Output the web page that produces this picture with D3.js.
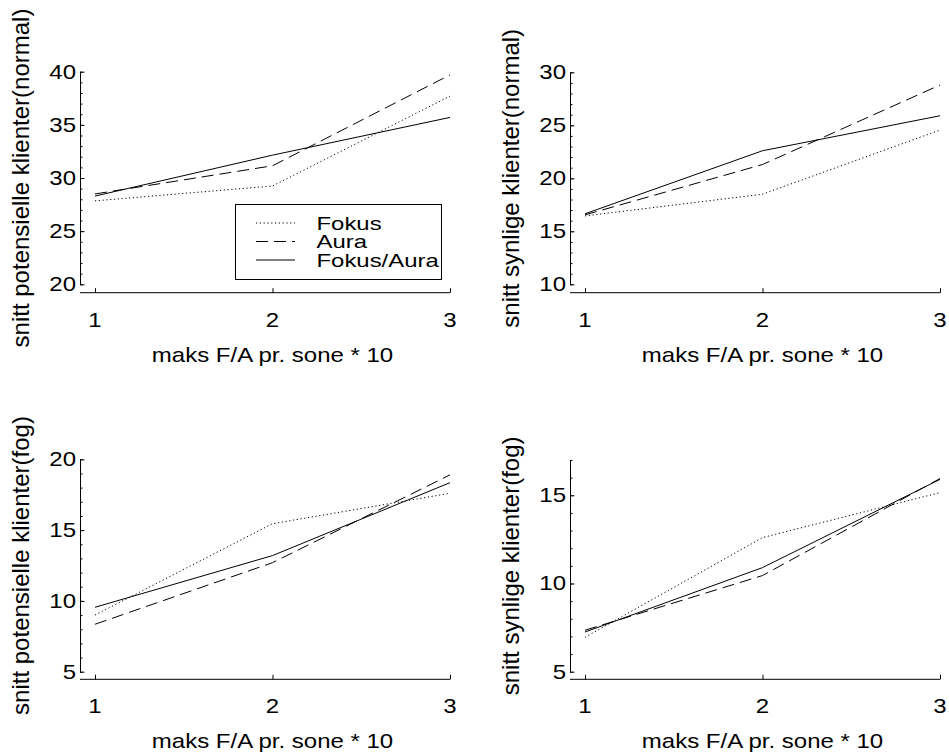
<!DOCTYPE html>
<html>
<head>
<style>
body { margin: 0; background: #fff; }
text { font-family: "Liberation Sans", Arial, Helvetica, sans-serif; fill: #000; }
.series { fill: none; stroke: #000; stroke-width: 1; }
</style>
</head>
<body>
<svg width="949" height="754"></svg>

<script src="https://d3js.org/d3.v7.min.js"></script>
<script>

// values
let xValues = [1, 2, 3];
let seriesNames = ["Fokus", "Aura", "Fokus/Aura"];

let potNormal = {
    "Fokus":      [27.85, 29.25, 37.7],
    "Aura":       [28.5, 31.15, 39.7],
    "Fokus/Aura": [28.3, 32.15, 35.7]
};
let synNormal = {
    "Fokus":      [16.45, 18.5, 24.55],
    "Aura":       [16.55, 21.3, 28.8],
    "Fokus/Aura": [16.65, 22.6, 25.9]
};
let potFog = {
    "Fokus":      [9.0, 15.45, 17.6],
    "Aura":       [8.35, 12.7, 18.9],
    "Fokus/Aura": [9.55, 13.2, 18.35]
};
let synFog = {
    "Fokus":      [6.95, 12.6, 15.15],
    "Aura":       [7.35, 10.45, 15.95],
    "Fokus/Aura": [7.25, 10.9, 15.9]
};

let yLabels = [
    "snitt potensielle klienter(normal)",
    "snitt synlige klienter(normal)",
    "snitt potensielle klienter(fog)",
    "snitt synlige klienter(fog)"
];
let xLabel = "maks F/A pr. sone * 10";
let yDomains = [[20, 40], [10, 30], [5, 20], [5, 17]];
let yMajorTicks = [[20, 25, 30, 35, 40], [10, 15, 20, 25, 30], [5, 10, 15, 20], [5, 10, 15]];

let dashes = { "Fokus": "1.2,2.6", "Aura": "12,6", "Fokus/Aura": null };

// layout of the four panels
let panels = [
    { data: potNormal, ax: 80,  x1: 95,  x3: 450, top: 71.7,  bottom: 284.3, xaxis: 292.7 },
    { data: synNormal, ax: 570, x1: 585, x3: 940, top: 72.3,  bottom: 284.3, xaxis: 292.7 },
    { data: potFog,    ax: 80,  x1: 95,  x3: 450, top: 459.3, bottom: 671.7, xaxis: 679.3 },
    { data: synFog,    ax: 570, x1: 585, x3: 940, top: 460,   bottom: 671.7, xaxis: 679.3 }
];

let svg = d3.select("svg");

function hText(g, x, y, str, anchor, size, stretch) {
    size = size || 20;
    stretch = stretch || 1.2;
    return g.append("text")
        .attr("transform", "translate(" + x + "," + y + ") scale(" + stretch + ",1)")
        .attr("text-anchor", anchor)
        .style("font-size", size + "px")
        .text(str);
}

panels.forEach(function(p, i) {
    let g = svg.append("g");
    let x = d3.scaleLinear().domain([1, 3]).range([p.x1, p.x3]);
    let y = d3.scaleLinear().domain(yDomains[i]).range([p.bottom, p.top]);

    // y axis: spine + ticks pointing inward
    let minor = d3.range(yDomains[i][0], yDomains[i][1] + 1, 1);
    g.append("g")
        .attr("transform", "translate(" + p.ax + ",0)")
        .call(d3.axisRight(y).tickValues(minor).tickSize(2.5).tickSizeOuter(0).tickFormat(""))
        .call(function(a) { a.select(".domain").remove(); });
    g.append("g")
        .attr("transform", "translate(" + p.ax + ",0)")
        .call(d3.axisRight(y).tickValues(yMajorTicks[i]).tickSize(4.5).tickSizeOuter(0).tickFormat(""))
        .call(function(a) { a.select(".domain").attr("stroke-width", 1); });

    yMajorTicks[i].forEach(function(t) {
        hText(g, p.ax - 4, y(t) + 7, t, "end");
    });

    // x axis
    g.append("line")
        .attr("x1", p.ax).attr("x2", x(3))
        .attr("y1", p.xaxis).attr("y2", p.xaxis)
        .attr("stroke", "#000").attr("stroke-width", 1);
    g.append("g")
        .attr("transform", "translate(0," + p.xaxis + ")")
        .call(d3.axisTop(x).tickValues(xValues).tickSize(4.5).tickSizeOuter(0).tickFormat(""))
        .call(function(a) { a.select(".domain").remove(); });
    xValues.forEach(function(v) {
        hText(g, x(v), p.xaxis + 34, v, "middle");
    });

    hText(g, (p.x1 + p.x3) / 2, p.xaxis + 69, xLabel, "middle");

    g.append("text")
        .attr("transform", "translate(" + (p.ax - 51) + "," + ((p.top + p.bottom) / 2) + ") rotate(-90)")
        .attr("text-anchor", "middle")
        .style("font-size", "24px")
        .text(yLabels[i]);

    // series
    let line = d3.line()
        .x(function(d, k) { return x(xValues[k]); })
        .y(function(d) { return y(d); });
    seriesNames.forEach(function(name) {
        g.append("path")
            .attr("class", "series")
            .attr("d", line(p.data[name]))
            .attr("stroke-dasharray", dashes[name]);
    });
});

// legend in first panel
let leg = svg.append("g");
leg.append("rect")
    .attr("x", 235.5).attr("y", 204.5)
    .attr("width", 206).attr("height", 75)
    .attr("fill", "#fff").attr("stroke", "#000").attr("stroke-width", 1);
seriesNames.forEach(function(name, k) {
    let ly = 223 + k * 18.5;
    leg.append("line")
        .attr("class", "series")
        .attr("x1", 256).attr("x2", 295)
        .attr("y1", ly).attr("y2", ly)
        .attr("stroke-dasharray", dashes[name]);
    hText(leg, 316.5, ly + 6.5, name, "start", 18, 1.33);
});

</script>
</body>
</html>
